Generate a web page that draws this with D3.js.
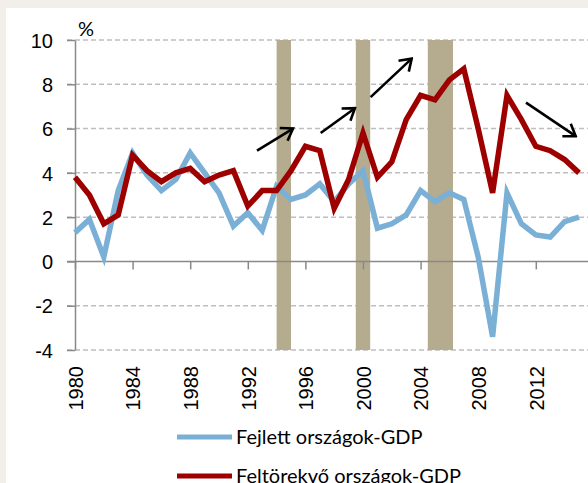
<!DOCTYPE html>
<html>
<head>
<meta charset="utf-8" />
<title></title>
<script src="https://cdn.jsdelivr.net/npm/d3@7/dist/d3.min.js"></script>
<style>
body { margin:0; background:#f2eeea; }
svg { display:block; font-family:Lato, "Open Sans", sans-serif; }
.grid line { stroke:#bfbfbf; stroke-width:1.5px; stroke-dasharray:5,3; }
.axis path, .axis line { stroke:#898989; stroke-width:1.5px; fill:none; }
.tick text { fill:#000; font-size:20px; }
.band { fill:#b5ac90; }
.arrow { stroke:#000; stroke-width:2.6px; fill:none; }
</style>
</head>
<body>
<div id="chart"></div>
<script>
var width = 588, height = 483;

// evek
var years = d3.range(1980, 2016);
// Fejlett orszagok GDP novekedes (%)
var fejlett = [1.3, 1.9, 0.2, 3.2, 4.9, 3.9, 3.2, 3.7, 4.9, 4.0, 3.1, 1.6,
               2.2, 1.4, 3.4, 2.8, 3.0, 3.5, 2.7, 3.5, 4.1, 1.5, 1.7, 2.1,
               3.2, 2.7, 3.1, 2.8, 0.2, -3.4, 3.1, 1.7, 1.2, 1.1, 1.8, 2.0];
// Feltorekvo orszagok GDP novekedes (%)
var feltorekvo = [3.8, 3.0, 1.7, 2.1, 4.8, 4.1, 3.6, 4.0, 4.2, 3.6, 3.9, 4.1,
                  2.5, 3.2, 3.2, 4.1, 5.2, 5.0, 2.4, 3.7, 5.8, 3.8, 4.5, 6.4,
                  7.5, 7.3, 8.2, 8.7, 6.0, 3.1, 7.5, 6.4, 5.2, 5.0, 4.6, 4.0];
// szurke savok (ev-tol, ev-ig)
var bands = [[1994, 1995], [1999.5, 2000.5], [2004.5, 2006.25]];
// nyilak: [ev1, ertek1, ev2, ertek2]
var arrows = [[1992.64, 5.0, 1995.14, 6.0],
              [1997.06, 5.8, 1999.44, 6.92],
              [2000.53, 7.42, 2003.38, 9.16],
              [2011.32, 7.17, 2014.77, 5.66]];
var yTicks = [-4, -2, 0, 2, 4, 6, 8, 10];
var xTicks = d3.range(1980, 2016, 4);
var seriesNames = ["Fejlett országok-GDP", "Feltörekvő országok-GDP"];
var colors = ["#7bb0d6", "#9e0000"];

var x = d3.scaleLinear().domain([1980, 2016]).range([75, 593.4]);
var y = d3.scaleLinear().domain([-4, 10]).range([350, 40]);

var svg = d3.select("#chart").append("svg")
    .attr("width", width).attr("height", height);

// feher hatter
svg.append("rect").attr("x", 6).attr("y", 8)
    .attr("width", width - 6).attr("height", height - 8).attr("fill", "#fff");

// racsvonalak
svg.append("g").attr("class", "grid")
    .selectAll("line").data(yTicks.filter(function(d){ return d != 0; }))
    .enter().append("line")
    .attr("x1", 67).attr("x2", width)
    .attr("y1", function(d){ return y(d); })
    .attr("y2", function(d){ return y(d); });

// savok
svg.selectAll("rect.band").data(bands).enter().append("rect")
    .attr("class", "band")
    .attr("x", function(d){ return x(d[0]); })
    .attr("width", function(d){ return x(d[1]) - x(d[0]); })
    .attr("y", y(10)).attr("height", y(-4) - y(10));

// y tengely
var yAxis = svg.append("g").attr("class", "axis")
    .attr("transform", "translate(75,0)")
    .call(d3.axisLeft(y).tickValues(yTicks).tickSize(8).tickPadding(14).tickSizeOuter(0)
          .tickFormat(function(d){ return String(d); }));
yAxis.selectAll(".tick text").attr("dy", "0.36em");

svg.append("text").attr("x", 78).attr("y", 36)
    .attr("font-size", "20px").text("%");

// x tengely a 0-nal
var xAxis = svg.append("g").attr("class", "axis")
    .attr("transform", "translate(0," + y(0) + ")")
    .call(d3.axisBottom(x).tickValues(xTicks).tickSize(8).tickSizeOuter(0)
          .tickFormat(function(d){ return String(d); }));
xAxis.select(".domain").attr("d", "M67,0H" + width);
xAxis.selectAll(".tick text")
    .attr("text-anchor", "end")
    .attr("transform", "translate(0," + (366 - y(0)) + ") rotate(-90)")
    .attr("x", 0).attr("y", 0).attr("dy", "0.36em");

// vonalak
var line = d3.line()
    .x(function(d, i){ return x(years[i]); })
    .y(function(d){ return y(d); });

[fejlett, feltorekvo].forEach(function(s, k){
  svg.append("path").datum(s)
    .attr("fill", "none")
    .attr("stroke", colors[k])
    .attr("stroke-width", 5.5)
    .attr("stroke-linejoin", "miter")
    .attr("d", line);
});

// nyilak
svg.append("defs").append("marker")
    .attr("id", "head")
    .attr("markerUnits", "userSpaceOnUse")
    .attr("viewBox", "-13 -9 15 18")
    .attr("markerWidth", 15).attr("markerHeight", 18)
    .attr("refX", 0).attr("refY", 0)
    .attr("orient", "auto")
    .append("path")
    .attr("d", "M-11,-7.5L0,0L-11,7.5")
    .attr("fill", "none").attr("stroke", "#000").attr("stroke-width", 2.6);

svg.selectAll("line.arrow").data(arrows).enter().append("line")
    .attr("class", "arrow")
    .attr("x1", function(d){ return x(d[0]); })
    .attr("y1", function(d){ return y(d[1]); })
    .attr("x2", function(d){ return x(d[2]); })
    .attr("y2", function(d){ return y(d[3]); })
    .attr("marker-end", "url(#head)");

// jelmagyarazat
var legend = svg.selectAll("g.legend").data(seriesNames).enter().append("g")
    .attr("class", "legend")
    .attr("transform", function(d, i){ return "translate(177," + (437 + i * 39) + ")"; });
legend.append("line").attr("x1", 0).attr("x2", 55)
    .attr("stroke", function(d, i){ return colors[i]; })
    .attr("stroke-width", 5);
legend.append("text").attr("x", 59).attr("dy", "0.36em")
    .attr("font-size", "20px").text(function(d){ return d; });
</script>
</body>
</html>
